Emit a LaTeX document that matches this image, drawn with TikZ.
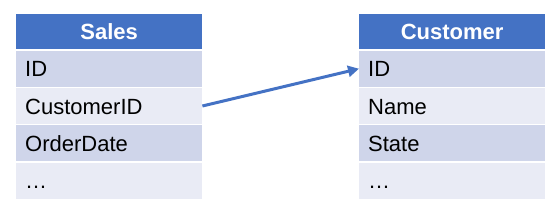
\documentclass[tikz,border=0pt]{standalone}
\usepackage{fontspec}
\setmainfont{Liberation Sans}
\usetikzlibrary{arrows.meta}
\definecolor{hdr}{HTML}{4472C4}
\definecolor{rowdark}{HTML}{CFD5EA}
\definecolor{rowlight}{HTML}{E9EBF5}
\tikzset{
  x=1pt,y=1pt,
  cell/.style={anchor=north west, minimum width=186pt, minimum height=36pt,
    inner xsep=9pt, inner ysep=0pt, text width=168pt, align=left,
    text height=16pt, text depth=0pt, font=\fontsize{22}{26}\selectfont, text=black},
  dark/.style={cell, fill=rowdark},
  light/.style={cell, fill=rowlight},
  header/.style={cell, fill=hdr, minimum height=34.3pt, align=center,
    text=white, font=\fontsize{22}{26}\selectfont\bfseries},
  link/.style={draw=hdr, line width=3pt, -{Triangle[length=11pt,width=11pt]}}
}
\begin{document}
\begin{tikzpicture}
\useasboundingbox (0,0) rectangle (560,210);
% Sales table
\node[header] (sh) at (16,196) {Sales};
\node[dark]  (s1) at (16,159.5) {ID};
\node[light] (s2) at (16,122.2) {CustomerID};
\node[dark]  (s3) at (16,84.9) {OrderDate};
\node[light] (s4) at (16,47.6) {…};
% Customer table
\node[header] (ch) at (359,196) {Customer};
\node[dark]  (c1) at (359,159.5) {ID};
\node[light] (c2) at (359,122.2) {Name};
\node[dark]  (c3) at (359,84.9) {State};
\node[light] (c4) at (359,47.6) {…};
% relation
\draw[link] (s2.east) -- (c1.west);
\end{tikzpicture}
\end{document}
